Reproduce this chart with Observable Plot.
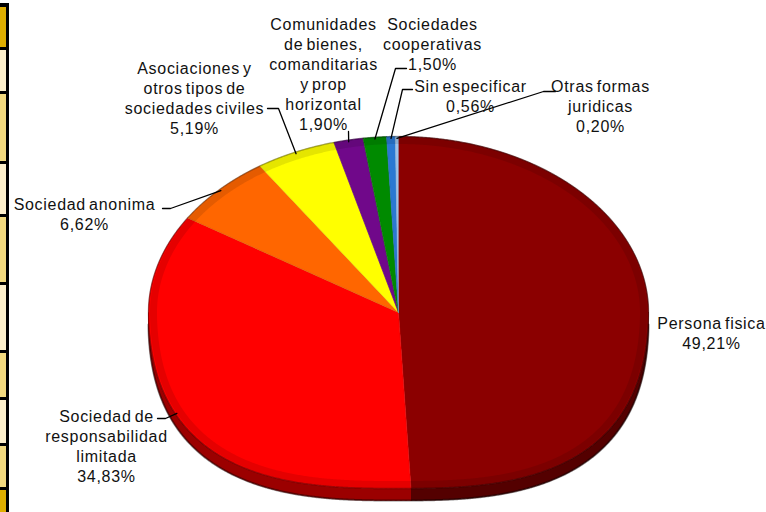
<!DOCTYPE html>
<html><head><meta charset="utf-8">
<script src="https://cdn.jsdelivr.net/npm/d3@7"></script>
<script src="https://cdn.jsdelivr.net/npm/@observablehq/plot@0.6"></script>
<style>
html,body{margin:0;padding:0;background:#fff;}
#wrap{position:relative;width:766px;height:512px;overflow:hidden;background:#fff;}
#strip{position:absolute;left:0;top:0;width:9px;height:512px;}
#strip div{position:absolute;left:0;width:6px;}
#chart{position:absolute;left:0;top:0;}
#chart svg text{letter-spacing:0.7px;word-spacing:-2px;}
</style></head><body>
<div id="wrap"><div id="strip"></div><div id="chart"></div></div>
<script>
// ---- data ----
const categories = [
  "Persona fisica",
  "Sociedad de responsabilidad limitada",
  "Sociedad anonima",
  "Asociaciones y otros tipos de sociedades civiles",
  "Comunidades de bienes, comanditarias y prop horizontal",
  "Sociedades cooperativas",
  "Sin especificar",
  "Otras formas juridicas"
];
const values = [49.21, 34.83, 6.62, 5.19, 1.90, 1.50, 0.56, 0.20];
const labelTexts = [
  "Persona fisica",
  "Sociedad de\nresponsabilidad\nlimitada",
  "Sociedad anonima",
  "Asociaciones y\notros tipos de\nsociedades civiles",
  "Comunidades\nde bienes,\ncomanditarias\ny prop\nhorizontal",
  "Sociedades\ncooperativas",
  "Sin especificar",
  "Otras formas\njuridicas"
];
const colors = ["#8B0000", "#FF0000", "#FF6600", "#FFFF00", "#70088A", "#008A00", "#2A78D2", "#9CC4EC"];

// ---- layout (pixels) ----
const W = 766, H = 512;
const CX = 398, CY = 312, RX = 250, RY = 176, DEPTH = 12, NB = 2.7;
// label anchor (center of first line) and leader elbow points
const labelPos = [
  {x: 711, y: 322, leader: null},
  {x: 106, y: 415, leader: [[157, 418], [165, 418]], rimAngle: 237},
  {x: 84, y: 203, leader: [[162, 208], [170, 208]]},
  {x: 194, y: 67, leader: [[267, 108], [278, 108]]},
  {x: 323, y: 23, leader: [[348, 131]]},
  {x: 432, y: 23, leader: [[406, 68], [395, 68]]},
  {x: 470, y: 85, leader: [[412, 89], [402, 89]]},
  {x: 600, y: 85, leader: [[555, 91], [543, 91]]}
];

// left decorative table edge
const stripBands = [[7, 47, "#DFAE00"], [50, 91, "#FDEFCB"], [94, 161, "#F2D97E"], [164, 214, "#FDEFCB"], [217, 282, "#F2D97E"], [285, 350, "#FDEFCB"], [353, 397, "#F2D97E"], [400, 443, "#FDEFCB"], [446, 487, "#F2D97E"], [490, 512, "#DFAE00"]];
const strip = document.getElementById("strip");
strip.style.background = "linear-gradient(to bottom, #fff 0, #fff 3px, #000 3px)";
for (const [a, b, c] of stripBands) {
  const d = document.createElement("div");
  d.style.top = a + "px";
  d.style.height = (b - a) + "px";
  d.style.background = c;
  strip.appendChild(d);
}

// ---- geometry from data ----
const X = px => px - CX, Y = py => CY - py;
const rows = categories.map((name, i) => ({name, value: values[i], color: colors[i], i}));
const arcs = d3.pie().sort(null).value(d => d.value)(rows);
// perspective-ish outline: ellipse at the back, smoothly fuller toward the front
function pt(a, kx = 1, ky = 1, dy = 0) {
  const s = Math.sin(a), c = Math.cos(a);
  let r = 1;
  if (c < 0) {
    const n = 2 + (NB - 2) * Math.sqrt(-c);
    r = Math.pow(Math.pow(Math.abs(s), n) + Math.pow(Math.abs(c), n), -1 / n);
  }
  return {x: RX * kx * r * s, y: RY * ky * r * c + dy};
}
function arcPts(a0, a1, kx, ky, dy) {
  const n = Math.max(2, Math.ceil((a1 - a0) / 0.005));
  return d3.range(n + 1).map(k => pt(a0 + (a1 - a0) * k / n, kx, ky, dy));
}
const sides = [], faces = [];
arcs.forEach(a => {
  const c = a.data.color;
  const s = Math.max(a.startAngle, Math.PI / 2), e = Math.min(a.endAngle, 3 * Math.PI / 2);
  if (e > s) {
    const top = arcPts(s, e, 1, 1, 0);
    const bot = arcPts(s, e, 1, 1, -DEPTH).reverse();
    const col = d3.color(c).darker(1.4).formatHex();
    [...top, ...bot].forEach(p => sides.push({...p, key: a.data.name, fill: col}));
  }
  const pts = [{x: 0, y: 0}, ...arcPts(a.startAngle, a.endAngle, 1, 1, 0)];
  pts.forEach(p => faces.push({...p, key: a.data.name, fill: c, stroke: d3.color(c).darker(0.4).formatHex()}));
});
const outline = arcPts(0, 2 * Math.PI, 1, 1, 0);
const bevel = arcPts(0, 2 * Math.PI, (RX - 5) / RX, (RY - 4) / RY, 0);
const lowerOutline = arcPts(Math.PI / 2, 3 * Math.PI / 2, 1, 1, -DEPTH);

const fmt = v => v.toFixed(2).replace(".", ",") + "%";
const labels = rows.map((r, i) => ({
  text: labelTexts[i] + "\n" + fmt(r.value),
  x: X(labelPos[i].x), y: Y(labelPos[i].y - 8)
}));
const leaders = [];
rows.forEach((r, i) => {
  const L = labelPos[i];
  if (!L.leader) return;
  const a = arcs[i];
  const ang = L.rimAngle != null ? L.rimAngle * Math.PI / 180 : (a.startAngle + a.endAngle) / 2;
  const end = pt(ang, 0.995, 0.99, 0);
  L.leader.forEach(([px, py]) => leaders.push({x: X(px), y: Y(py), key: r.name}));
  leaders.push({...end, key: r.name});
});

const chart = Plot.plot({
  width: W, height: H, margin: 0,
  x: {domain: [-CX, W - CX], range: [0, W], axis: null},
  y: {domain: [CY - H, CY], range: [H, 0], axis: null},
  color: {type: "identity"},
  style: {fontFamily: "'Liberation Sans', Arial, sans-serif", fontSize: "16px", background: "transparent"},
  marks: [
    Plot.line(sides, {x: "x", y: "y", z: "key", fill: "fill", stroke: "fill", strokeWidth: 0.8, curve: "linear"}),
    Plot.line(lowerOutline, {x: "x", y: "y", stroke: "#000", strokeOpacity: 0.45, strokeWidth: 2}),
    Plot.line(faces, {x: "x", y: "y", z: "key", fill: "fill", stroke: "stroke", strokeWidth: 0.7, curve: "linear"}),
    Plot.line(bevel, {x: "x", y: "y", stroke: "#000", strokeOpacity: 0.1, strokeWidth: 7}),
    Plot.line(outline, {x: "x", y: "y", stroke: "#000", strokeOpacity: 0.3, strokeWidth: 1.5}),
    Plot.line(leaders, {x: "x", y: "y", z: "key", stroke: "#000", strokeWidth: 1.3, curve: "linear"}),
    Plot.text(labels, {x: "x", y: "y", text: "text", lineAnchor: "top", lineHeight: 1.25, fontSize: 16, fill: "#111", textAnchor: "middle"})
  ]
});
document.getElementById("chart").appendChild(chart);
</script>
</body></html>
